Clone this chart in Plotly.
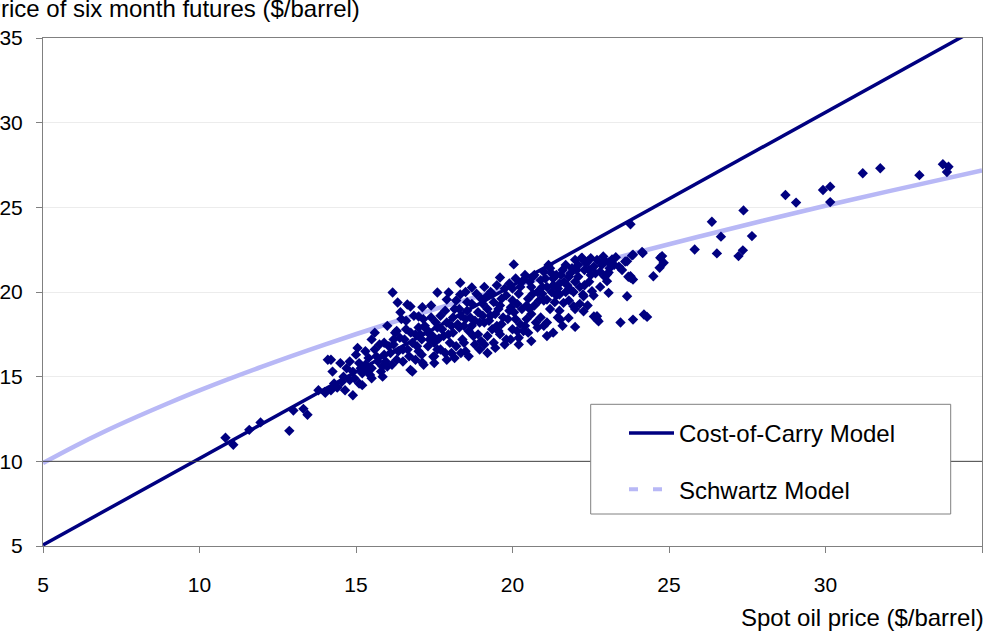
import plotly.graph_objects as go

# ---- Observed spot vs six-month futures prices ($/barrel), grouped by region ----
obs_low = [(10.83, 11.39), (11.08, 10.98), (11.59, 11.86), (11.95, 12.30), (12.87, 11.80),
           (13.0, 13.0), (13.32, 13.10), (13.45, 12.75), (13.8, 14.2), (14.02, 14.05)]
obs_14 = [(14.1, 16.0), (14.2, 16.0), (14.25, 15.3), (14.5, 15.8), (14.4, 14.35), (14.0, 14.1),
          (14.3, 14.6), (14.2, 14.2), (14.6, 15.0), (14.7, 15.5), (14.8, 14.8), (14.9, 13.9),
          (15.0, 16.3), (15.05, 16.7), (15.1, 14.6), (14.9, 15.3), (14.8, 15.9), (14.4, 14.4),
          (14.65, 14.2)]
obs_15 = [(15.2, 15.2), (15.3, 15.7), (15.4, 16.1), (15.5, 15.5), (15.6, 17.6), (15.6, 16.6),
          (15.7, 15.9), (15.8, 15.3), (15.9, 16.3), (16.0, 15.6), (15.3, 16.5), (15.5, 14.9),
          (15.9, 17.0), (15.2, 14.5), (15.45, 15.1), (15.5, 17.2), (15.75, 16.9), (15.1, 15.8),
          (15.85, 15.0)]
obs_16 = [(16.1, 16.4), (16.2, 16.9), (16.3, 16.0), (16.4, 17.3), (16.5, 16.6), (16.6, 17.8),
          (16.7, 16.2), (16.8, 17.0), (16.9, 17.5), (17.0, 16.5), (16.3, 17.7), (16.5, 15.9),
          (16.9, 16.0), (16.74, 15.4), (16.17, 19.97), (16.33, 19.38), (16.64, 19.26),
          (16.74, 19.14), (16.42, 18.8), (16.0, 18.0), (16.6, 18.3), (16.2, 17.2), (17.0, 17.9),
          (16.15, 15.7), (16.45, 18.4), (16.85, 18.6)]
obs_17 = [(17.1, 16.3), (17.1, 17.2), (17.2, 18.0), (17.3, 16.8), (17.3, 17.6), (17.4, 18.5),
          (17.5, 17.0), (17.5, 16.2), (17.6, 17.9), (17.7, 16.6), (17.7, 18.6), (17.8, 17.4),
          (17.9, 16.0), (17.9, 18.2), (18.0, 17.0), (17.12, 19.1), (17.0, 18.55), (17.6, 19.97),
          (17.96, 19.97), (17.9, 19.55), (17.4, 19.2), (17.12, 15.83), (17.47, 16.18),
          (17.6, 16.6), (16.8, 15.3), (17.16, 15.7), (17.5, 15.8), (17.25, 17.8), (17.65, 17.25),
          (17.85, 18.9)]
obs_18 = [(18.1, 17.6), (18.1, 18.5), (18.2, 16.8), (18.3, 17.9), (18.3, 19.0), (18.4, 17.2),
          (18.5, 18.4), (18.5, 16.5), (18.6, 17.7), (18.7, 19.3), (18.7, 18.0), (18.8, 16.9),
          (18.9, 17.5), (18.9, 18.8), (19.0, 17.1), (19.0, 19.6), (18.33, 20.55), (18.33, 19.85),
          (18.5, 20.0), (18.7, 20.27), (18.2, 19.5), (18.6, 16.2), (18.95, 16.6), (18.15, 16.1),
          (18.45, 17.0), (18.8, 18.3), (18.25, 18.1), (18.55, 18.9), (18.85, 19.9)]
obs_19 = [(19.1, 20.3), (19.1, 18.2), (19.2, 17.4), (19.2, 19.0), (19.3, 18.6), (19.3, 20.0),
          (19.4, 17.0), (19.4, 19.4), (19.5, 18.0), (19.5, 20.4), (19.6, 17.5), (19.6, 19.2),
          (19.6, 20.86), (19.7, 18.5), (19.8, 19.8), (19.8, 17.2), (19.9, 18.9), (19.9, 20.5),
          (20.0, 17.8), (20.0, 19.5), (20.0, 20.2), (19.45, 16.7), (19.75, 16.9), (19.2, 16.4),
          (19.05, 18.6), (19.35, 17.8), (19.65, 18.1), (19.85, 18.4), (19.15, 19.7),
          (19.55, 19.0), (19.94, 17.2)]
obs_20 = [(20.1, 18.4), (20.1, 20.8), (20.2, 17.3), (20.2, 19.9), (20.3, 19.0), (20.3, 20.6),
          (20.4, 18.0), (20.4, 21.0), (20.5, 19.6), (20.5, 17.6), (20.6, 20.3), (20.6, 18.7),
          (20.7, 21.0), (20.7, 19.2), (20.8, 17.9), (20.8, 20.0), (20.9, 20.7), (20.9, 18.5),
          (21.0, 19.5), (21.0, 21.2), (20.04, 21.63), (20.2, 16.9), (20.6, 17.1), (20.15, 19.3),
          (20.45, 18.4), (20.75, 18.2), (20.35, 17.7), (20.65, 19.9), (20.95, 19.9), (20.55, 20.6)]
obs_21 = [(21.1, 20.3), (21.1, 18.2), (21.2, 21.4), (21.2, 19.0), (21.3, 20.8), (21.3, 17.6),
          (21.4, 19.8), (21.4, 21.0), (21.5, 18.9), (21.5, 20.5), (21.6, 21.3), (21.6, 18.0),
          (21.7, 20.0), (21.7, 21.6), (21.8, 19.5), (21.8, 20.9), (21.9, 21.4), (22.0, 20.6),
          (22.0, 19.0), (21.53, 18.37), (21.79, 18.47), (22.0, 17.94), (21.63, 19.36),
          (21.95, 19.16), (21.85, 20.15), (21.1, 17.4), (21.1, 19.55), (21.5, 19.85),
          (21.25, 21.1), (21.45, 20.2), (21.65, 20.6), (21.15, 21.6)]
obs_22 = [(22.1, 21.6), (22.1, 20.9), (22.2, 22.0), (22.3, 21.3), (22.4, 21.8), (22.5, 21.0),
          (22.5, 22.0), (22.6, 21.5), (22.7, 21.9), (22.8, 21.2), (22.9, 21.7), (22.22, 22.02),
          (22.27, 19.75), (22.54, 20.05), (22.59, 19.79), (22.27, 18.86), (22.7, 18.57),
          (22.75, 18.27), (22.3, 20.4), (22.8, 20.3), (22.25, 19.85), (22.6, 18.55),
          (22.7, 18.37), (22.0, 21.9), (22.45, 20.6), (22.9, 22.1)]
obs_23 = [(23.07, 21.15), (23.2, 21.9), (23.6, 21.8), (23.85, 22.2), (24.16, 22.3), (23.07, 21.75),
          (23.7, 20.9), (23.85, 20.74), (23.45, 18.2), (23.85, 18.37), (24.2, 18.67), (24.3, 18.53),
          (23.02, 21.04), (23.02, 20.64), (23.07, 19.95), (23.66, 19.75), (23.77, 24.0),
          (23.77, 20.84), (24.14, 22.36), (23.82, 22.16), (23.66, 21.82), (24.78, 22.12),
          (24.83, 21.73), (24.7, 21.43), (24.5, 20.93), (23.18, 21.92), (22.96, 21.82),
          (23.77, 20.93), (23.4, 21.5), (24.72, 22.02), (23.3, 22.05)]
obs_core = [(15.35, 15.4), (15.65, 16.2), (15.95, 15.9), (16.05, 16.8), (16.35, 16.5),
            (16.55, 17.2), (16.75, 17.6), (16.95, 16.8), (17.05, 17.5), (17.35, 17.2),
            (17.55, 18.2), (17.75, 17.8), (17.95, 17.5), (18.05, 18.0), (18.15, 19.0),
            (18.35, 18.6), (18.45, 18.0), (18.65, 18.5), (18.75, 17.4), (18.95, 18.2),
            (19.05, 19.3), (19.25, 18.3), (19.45, 18.7), (19.65, 19.6), (19.75, 20.2),
            (19.95, 19.1), (20.05, 18.8), (20.25, 20.3), (20.45, 19.2), (20.55, 19.0),
            (20.65, 20.9), (20.85, 19.5), (20.95, 20.3), (21.05, 20.8), (21.25, 20.0),
            (21.35, 19.4), (21.55, 21.0), (21.75, 20.4), (21.85, 21.1), (21.95, 20.0),
            (22.05, 21.3), (22.15, 20.3), (22.35, 21.7), (22.45, 21.3), (22.65, 21.1),
            (22.85, 21.6), (22.95, 20.9), (23.1, 21.4), (23.25, 21.6), (23.5, 21.3),
            (16.25, 17.6), (17.15, 18.4), (18.55, 19.4), (19.35, 19.9), (20.35, 20.7),
            (21.3, 20.4), (19.55, 17.7), (20.15, 17.7), (18.05, 16.4), (17.45, 17.4),
            (16.65, 16.6), (15.85, 15.6), (15.15, 15.5), (14.95, 14.9), (14.55, 14.7),
            (17.85, 16.4), (18.35, 16.4), (19.1, 16.9), (20.25, 18.1), (21.0, 18.0),
            (21.45, 18.5), (22.15, 19.3), (22.4, 19.2)]
obs_high = [(25.82, 22.51), (26.37, 24.15), (26.53, 22.28), (26.66, 23.27), (27.22, 22.12),
            (27.36, 22.46), (27.38, 24.82), (27.65, 23.3), (28.72, 25.73), (29.06, 25.28),
            (29.92, 26.02), (30.15, 26.22), (30.15, 25.31), (31.19, 27.01), (31.75, 27.31),
            (33.0, 26.9), (33.75, 27.54), (33.93, 27.4), (33.88, 27.09)]

observations = (obs_low + obs_14 + obs_15 + obs_16 + obs_17 + obs_18 + obs_19 + obs_20
                + obs_21 + obs_22 + obs_23 + obs_core + obs_high)
spot_price = [p[0] for p in observations]
futures_price = [p[1] for p in observations]

# ---- Model curves ----
carry_spot = [5, 10, 15, 20, 25, 30, 35]
carry_futures = [5.06, 10.17, 15.28, 20.39, 25.50, 30.61, 35.72]

schwartz_spot = [5, 6, 7, 8, 9, 10, 12, 14, 16, 18, 20, 22, 24, 26, 28, 30, 32, 35]
schwartz_futures = [9.90, 10.88, 11.79, 12.63, 13.43, 14.19, 15.59, 16.89, 18.11, 19.25,
                    20.33, 21.36, 22.35, 23.29, 24.21, 25.09, 25.94, 27.18]

tick_vals = [5, 10, 15, 20, 25, 30, 35]
tick_text = ["5", "10", "15", "20", "25", "30", "35"]

NAVY = "#000080"
LAV = "rgb(184,184,246)"
FONT = "Arial, Liberation Sans, sans-serif"

fig = go.Figure()

fig.add_trace(go.Scatter(x=schwartz_spot, y=schwartz_futures, mode="lines",
                         line=dict(color=LAV, width=4.5, shape="spline"),
                         showlegend=False, hoverinfo="skip"))
fig.add_trace(go.Scatter(x=spot_price, y=futures_price, mode="markers",
                         marker=dict(symbol="diamond", size=8, color=NAVY, line=dict(width=0)),
                         showlegend=False))
fig.add_trace(go.Scatter(x=carry_spot, y=carry_futures, mode="lines",
                         line=dict(color=NAVY, width=3.5),
                         name="Cost-of-Carry Model", legendgroup="a", legendrank=1))
fig.add_trace(go.Scatter(x=[None], y=[None], mode="lines",
                         line=dict(color=LAV, width=4, dash="9px,15px"),
                         name="Schwartz Model", legendgroup="b", legendrank=2))

W, H = 988, 635
L, R, T, B = 43, 6, 38, 89
pw, ph = W - L - R, H - T - B

def px_x(px):
    return (px - L) / pw

def px_y(py):
    return (H - B - py) / ph

fig.update_layout(
    width=W, height=H,
    margin=dict(l=L, r=R, t=T, b=B, autoexpand=False),
    paper_bgcolor="white", plot_bgcolor="white",
    font=dict(family=FONT, size=21, color="black"),
    xaxis=dict(range=[5, 35], tickvals=tick_vals, ticktext=tick_text,
               showgrid=False, zeroline=False, automargin=False,
               showline=True, linecolor="#808080", linewidth=1, mirror=True,
               ticks="outside", ticklen=6, tickcolor="#808080",
               ticklabelstandoff=14, tickfont=dict(size=21)),
    yaxis=dict(range=[5, 35], tickvals=tick_vals, ticktext=tick_text,
               showgrid=True, gridcolor="#ececec", gridwidth=1, zeroline=False,
               automargin=False,
               showline=True, linecolor="#808080", linewidth=1, mirror=True,
               ticks="outside", ticklen=6, tickcolor="#808080",
               ticklabelstandoff=9, tickfont=dict(size=21)),
    legend=dict(x=px_x(624), y=px_y(411), xanchor="left", yanchor="top",
                bgcolor="rgba(0,0,0,0)", borderwidth=0,
                font=dict(family=FONT, size=24, color="black"),
                traceorder="grouped", tracegroupgap=22, itemwidth=45),
    shapes=[
        dict(type="line", xref="paper", yref="y", x0=0, x1=1, y0=10, y1=10,
             line=dict(color="#404040", width=1), layer="above"),
        dict(type="rect", xref="paper", yref="paper",
             x0=px_x(590.7), x1=px_x(950.7), y0=px_y(514), y1=px_y(404.3),
             line=dict(color="#808080", width=1), fillcolor="white", layer="above"),
    ],
    annotations=[
        dict(text="Price of six month futures ($/barrel)", xref="paper", yref="paper",
             x=px_x(362), y=px_y(8), xanchor="right", yanchor="middle", showarrow=False,
             font=dict(family=FONT, size=24, color="black")),
        dict(text="Spot oil price ($/barrel)", xref="paper", yref="paper",
             x=px_x(986), y=px_y(617), xanchor="right", yanchor="middle", showarrow=False,
             font=dict(family=FONT, size=24, color="black")),
    ],
)

fig.write_html("out.html")
